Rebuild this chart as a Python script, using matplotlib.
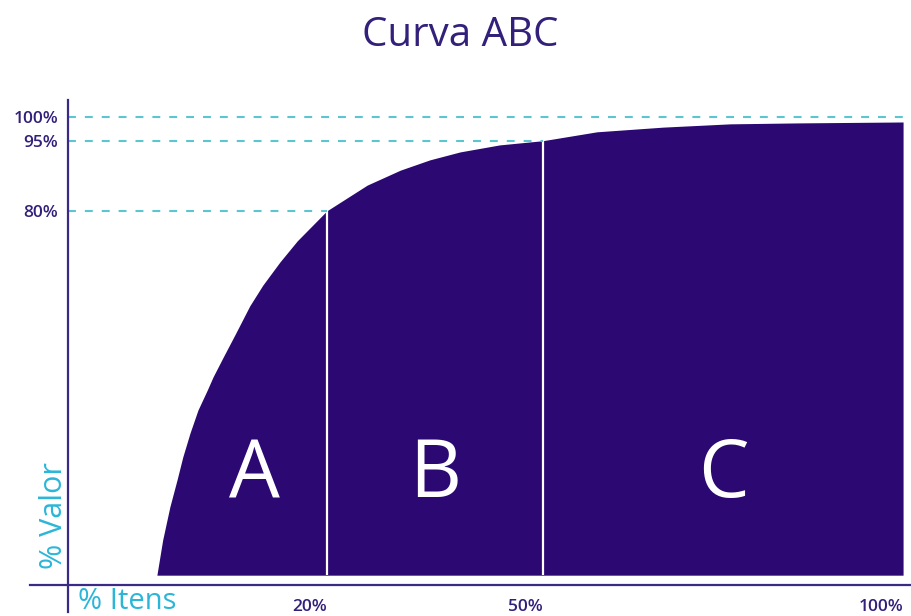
import matplotlib.pyplot as plt

# Dados (% itens acumulados x % valor acumulado)
itens = [-3.6, -2.8, -1.8, -0.8, 0.0, 1.0, 2.1, 3.4, 4.2, 5.6, 7.3, 9.3,
         11.1, 13.5, 15.9, 20.0, 25.6, 30.2, 34.3, 38.5, 44.0, 50.0,
         57.5, 66.7, 76.0, 85.3, 100.0]
valor = [2.1, 9.6, 16.7, 22.5, 27.4, 32.5, 37.4, 41.7, 44.5, 48.7, 53.7,
         59.7, 64.1, 69.1, 73.6, 80.0, 85.5, 88.7, 90.9, 92.6, 94.1, 95.0,
         96.9, 97.9, 98.6, 98.8, 99.0]
base = 2.1

# Limites das classes
limites_x = [0, 20, 50, 100]
limites_y = [80, 95, 100]
classes = ['A', 'B', 'C']
rotulos_x = ['20%', '50%', '100%']
rotulos_y = ['80%', '95%', '100%']

roxo = '#2b0872'
roxo_txt = '#33207a'
ciano = '#5cc6d0'
ciano_txt = '#2bb6d8'

plt.rcParams['font.family'] = ['Open Sans', 'DejaVu Sans']

fig = plt.figure(figsize=(9.12, 6.16), dpi=100)
ax = fig.add_axes([68 / 912, 31 / 616, 844 / 912, 485 / 616])
ax.set_xlim(-15.94, 101.24)
ax.set_ylim(0, 103.7)
for s in ax.spines.values():
    s.set_visible(False)

# Area da curva
ax.fill_between(itens, valor, base, color=roxo, linewidth=0)

# Separacao das classes
ax.vlines(limites_x[1:3], base, limites_y[:2], color='white', lw=1.6)

# Linhas tracejadas de referencia
x0 = ax.get_xlim()[0]
fim = [limites_x[1], limites_x[2], ax.get_xlim()[1]]
ax.hlines(limites_y, x0, fim, color=ciano, lw=1.5, linestyles=[(0, (3.8, 4.3))])

# Eixos desenhados
ax.plot([0, 0], [1, -0.056], transform=ax.transAxes, color='#3a2a85',
        lw=1.6, clip_on=False)
ax.plot([-0.045, 1], [0, 0], transform=ax.transAxes, color='#3a2a85',
        lw=1.6, clip_on=False)

# Rotulos das classes
for i, c in enumerate(classes):
    xm = (limites_x[i] + limites_x[i + 1]) / 2
    ax.text(xm, 18.8, c, color='white', fontsize=58, ha='center', va='baseline')

ax.set_yticks(limites_y)
ax.set_yticklabels(rotulos_y)
ax.set_xticks(limites_x[1:])
ax.set_xticklabels(rotulos_x, ha='right')
ax.tick_params(length=0, labelsize=12.5, labelcolor=roxo_txt)
ax.tick_params(axis='y', pad=7)
ax.tick_params(axis='x', pad=10)
for lab in ax.get_xticklabels() + ax.get_yticklabels():
    lab.set_fontweight('semibold')

fig.text(62 / 912, 1 - 516 / 616, '% Valor', rotation=90, color=ciano_txt,
         fontsize=22, ha='center', va='baseline', rotation_mode='anchor')
fig.text(78 / 912, 1 - 609 / 616, '% Itens', color=ciano_txt,
         fontsize=21, ha='left', va='baseline')
fig.text(460 / 912, 1 - 46 / 616, 'Curva ABC', color=roxo_txt,
         fontsize=29, ha='center', va='baseline')

fig.savefig('out.png', dpi=100)
